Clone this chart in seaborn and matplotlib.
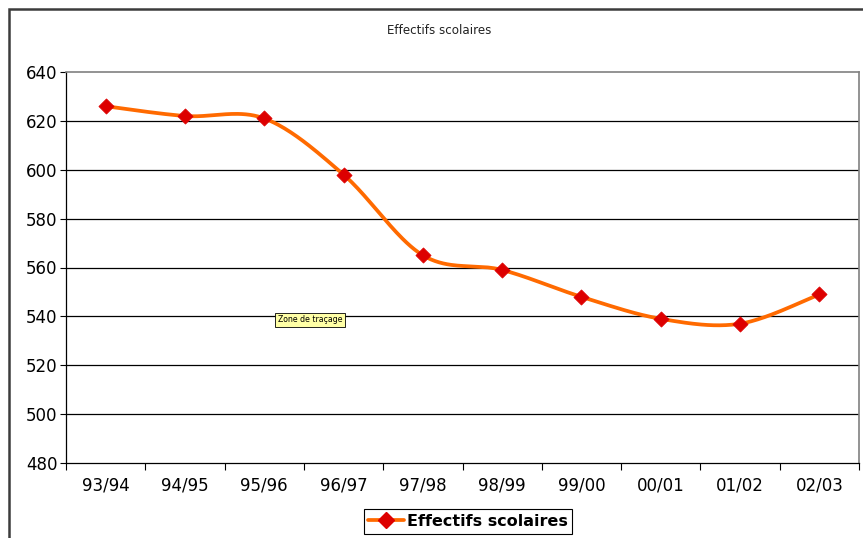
import numpy as np
import pandas as pd
import matplotlib
matplotlib.use("Agg")
import matplotlib.pyplot as plt
from matplotlib.lines import Line2D
from matplotlib.patches import Rectangle
import seaborn as sns

# School enrolment per school year
years = ["93/94", "94/95", "95/96", "96/97", "97/98",
         "98/99", "99/00", "00/01", "01/02", "02/03"]
effectifs = [626, 622, 621, 598, 565, 559, 548, 539, 537, 549]
y_ticks = [480, 500, 520, 540, 560, 580, 600, 620, 640]

sns.set_theme(style="white")
plt.rcParams["font.family"] = ["DejaVu Sans"]
plt.rcParams["text.color"] = "black"
plt.rcParams["xtick.color"] = "black"
plt.rcParams["ytick.color"] = "black"

LINE = "#ff6a00"
MARK = "#dd0000"


def smooth_curve(xs, ys, steps=40):
    """Catmull-Rom style Bezier smoothing through every point."""
    xs = np.asarray(xs, float)
    ys = np.asarray(ys, float)
    px = np.concatenate([[xs[0]], xs, [xs[-1]]])
    py = np.concatenate([[ys[0]], ys, [ys[-1]]])
    out_x, out_y = [], []
    t = np.linspace(0, 1, steps)
    for i in range(1, len(px) - 2):
        p0 = np.array([px[i], py[i]])
        p3 = np.array([px[i + 1], py[i + 1]])
        c1 = p0 + (np.array([px[i + 1], py[i + 1]]) - np.array([px[i - 1], py[i - 1]])) / 6
        c2 = p3 - (np.array([px[i + 2], py[i + 2]]) - np.array([px[i], py[i]])) / 6
        pts = ((1 - t) ** 3)[:, None] * p0 + (3 * (1 - t) ** 2 * t)[:, None] * c1 \
            + (3 * (1 - t) * t ** 2)[:, None] * c2 + (t ** 3)[:, None] * p3
        if i > 1:
            pts = pts[1:]
        out_x.extend(pts[:, 0])
        out_y.extend(pts[:, 1])
    return np.array(out_x), np.array(out_y)


idx = np.arange(len(years))
df = pd.DataFrame({"pos": idx, "val": effectifs})
sx, sy = smooth_curve(idx, effectifs)
curve = pd.DataFrame({"pos": sx, "val": sy})

fig = plt.figure(figsize=(8.63, 5.38), dpi=100)
ax = fig.add_axes([66 / 863, 1 - 463 / 538, (859 - 66) / 863, (463 - 72) / 538])

# horizontal gridlines
for v in y_ticks[1:-1]:
    ax.axhline(v, color="black", lw=0.9, zorder=1)

sns.lineplot(data=curve, x="pos", y="val", ax=ax, color=LINE, lw=2.7,
             sort=False, estimator=None, zorder=3)
sns.scatterplot(data=df, x="pos", y="val", ax=ax, marker="D", s=60,
                color=MARK, edgecolor=MARK, linewidth=0.5, zorder=4)

ax.set_xlim(-0.5, len(years) - 0.5)
ax.set_ylim(480, 640)
ax.set_yticks(y_ticks)
ax.set_yticklabels([str(v) for v in y_ticks], fontsize=12)
ax.set_xticks(idx)
ax.set_xticklabels(years, fontsize=12)
ax.set_xticks(np.arange(-0.5, len(years) + 0.5, 1), minor=True)
ax.tick_params(axis="x", which="major", length=0, pad=10)
ax.tick_params(axis="x", which="minor", length=5, width=0.8, color="black",
               direction="out", bottom=True)
ax.tick_params(axis="y", length=4, width=0.8, color="black", left=True,
               direction="out", pad=2)
ax.set_xlabel("")
ax.set_ylabel("")

for side in ["left", "bottom"]:
    ax.spines[side].set_color("black")
    ax.spines[side].set_linewidth(0.9)
for side in ["top", "right"]:
    ax.spines[side].set_color("#808080")
    ax.spines[side].set_linewidth(1.2)

# plot-area tooltip
ax.text(2.17, 538.6, "Zone de traçage", fontsize=5.6, ha="left", va="center",
        bbox=dict(boxstyle="square,pad=0.3", fc="#ffffa6", ec="black", lw=0.6),
        zorder=6)

# chart title
fig.text(439 / 863, 1 - 30 / 538, "Effectifs scolaires", fontsize=8.6,
         ha="center", va="center", color="#222222")

# outer chart frame
fig.patches.append(Rectangle((8.5 / 863, -0.1), 2, 1.1 - 9 / 538,
                             transform=fig.transFigure, fill=False,
                             ec="#3c3c3c", lw=1.8))

handle = Line2D([], [], color=LINE, lw=2.7, marker="D", markersize=8,
                markerfacecolor=MARK, markeredgecolor=MARK)
fig.legend([handle], ["Effectifs scolaires"], loc="center",
           bbox_to_anchor=(468 / 863, 1 - 521.5 / 538), frameon=True,
           fancybox=False, edgecolor="black", framealpha=1,
           prop={"weight": "bold", "size": 11.5}, handlelength=2.2,
           handletextpad=0.2, borderpad=0.3, borderaxespad=0)
fig.legends[0].get_frame().set_linewidth(0.8)

fig.savefig("out.png", dpi=100)
